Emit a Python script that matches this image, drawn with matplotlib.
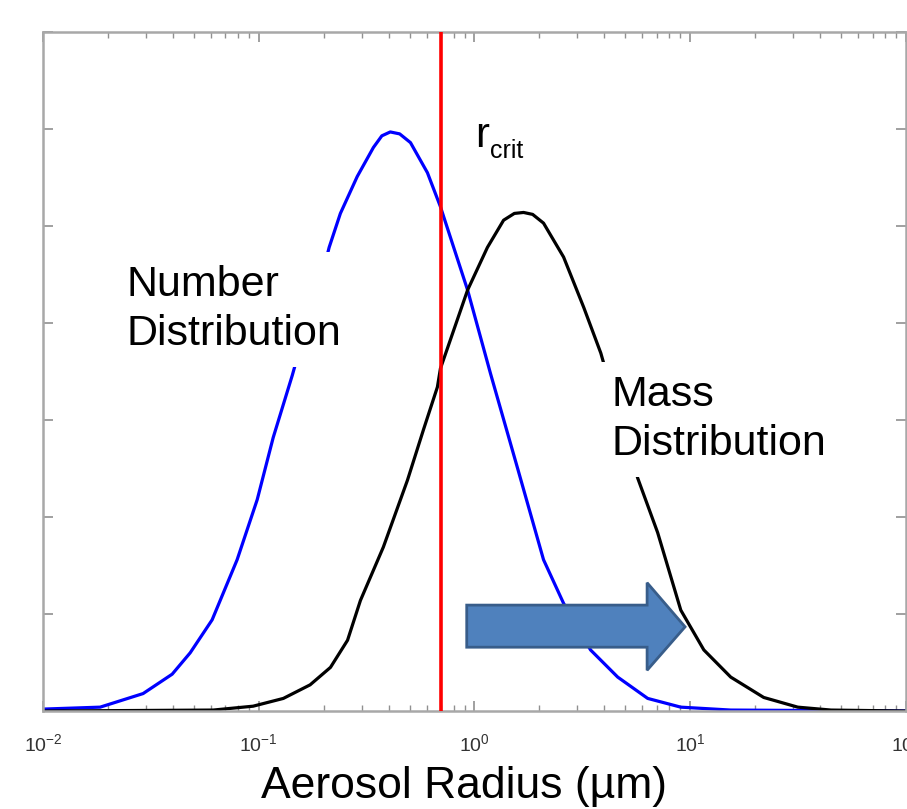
import matplotlib
matplotlib.use("Agg")
import matplotlib.pyplot as plt
from matplotlib.patches import Polygon
from matplotlib.ticker import LogLocator, NullFormatter, MultipleLocator

plt.rcParams["font.family"] = ["Liberation Sans", "DejaVu Sans"]
plt.rcParams["mathtext.default"] = "regular"

# number distribution (blue), radius in um vs arbitrary units
number_r = [0.0100, 0.0184, 0.0291, 0.0397, 0.0481, 0.0608, 0.0794, 0.0984,
            0.1167, 0.143, 0.164, 0.189, 0.212, 0.239, 0.286, 0.340, 0.372,
            0.407, 0.450, 0.505, 0.605, 0.695, 0.929, 1.186, 1.585, 2.089,
            2.588, 3.45, 4.61, 6.35, 9.04, 15.4, 100.0]
number_y = [0.02, 0.04, 0.18, 0.38, 0.60, 0.94, 1.56, 2.18,
            2.82, 3.46, 3.93, 4.34, 4.78, 5.13, 5.51, 5.81, 5.93,
            5.97, 5.95, 5.86, 5.55, 5.20, 4.34, 3.48, 2.50, 1.56,
            1.11, 0.63, 0.35, 0.13, 0.04, 0.01, 0.0]

# mass distribution (black)
mass_r = [0.0100, 0.0615, 0.0942, 0.130, 0.173, 0.215, 0.258, 0.296, 0.378,
          0.489, 0.580, 0.673, 0.695, 0.929, 1.148, 1.364, 1.53, 1.688, 1.86,
          2.089, 2.588, 3.21, 3.85, 4.37, 5.02, 5.71, 7.06, 9.04, 11.56,
          15.4, 21.9, 31.5, 44.9, 100.0]
mass_y = [0.0, 0.01, 0.05, 0.13, 0.27, 0.45, 0.73, 1.14, 1.69,
          2.38, 2.90, 3.34, 3.53, 4.34, 4.78, 5.06, 5.13, 5.14, 5.12,
          5.03, 4.68, 4.16, 3.69, 3.26, 2.82, 2.40, 1.84, 1.04, 0.63,
          0.35, 0.14, 0.04, 0.01, 0.0]

r_crit = 0.70

fig = plt.figure(figsize=(9.07, 8.09), dpi=100)
ax = fig.add_axes([0.0474, 0.1211, 0.9515, 0.8393])

ax.semilogx(number_r, number_y, color="#0000ff", lw=2.3, zorder=2)
ax.semilogx(mass_r, mass_y, color="black", lw=2.3, zorder=2)
ax.axvline(r_crit, color="#ff0000", lw=2.6, zorder=4)

ax.set_xlim(0.01, 100)
ax.set_ylim(0, 7)

# axis styling, matlab-like
for sp in ax.spines.values():
    sp.set_color("#a8a8a8")
    sp.set_linewidth(1.8)
ax.xaxis.set_major_locator(LogLocator(base=10, numticks=10))
ax.xaxis.set_minor_locator(LogLocator(base=10, subs=range(2, 10), numticks=10))
ax.xaxis.set_minor_formatter(NullFormatter())
ax.yaxis.set_major_locator(MultipleLocator(1))
ax.tick_params(which="both", direction="in", top=True, right=True,
               color="#909090")
ax.tick_params(which="major", length=7, width=1.2)
ax.tick_params(which="minor", length=4, width=1.0)
ax.tick_params(axis="x", labelsize=14, labelcolor="#333333", pad=16)
ax.set_yticklabels([])

# labels with white boxes hiding part of the curves
box = dict(boxstyle="square,pad=0.3", facecolor="white", edgecolor="none")
ax.text(0.0973, 0.657, "Number\nDistribution", transform=ax.transAxes,
        fontsize=31, va="top", ha="left", linespacing=1.3, bbox=box, zorder=3)
ax.text(0.659, 0.495, "Mass\nDistribution", transform=ax.transAxes,
        fontsize=31, va="top", ha="left", linespacing=1.3, bbox=box, zorder=3)
ax.text(0.5006, 0.831, "r", transform=ax.transAxes, fontsize=30,
        va="baseline", ha="left", zorder=3)
ax.text(0.518, 0.815, "crit", transform=ax.transAxes, fontsize=18,
        va="baseline", ha="left", zorder=3)

# block arrow (axes fractions)
arrow_pts = [(0.491, 0.156), (0.700, 0.156), (0.700, 0.189), (0.744, 0.124),
             (0.700, 0.060), (0.700, 0.094), (0.491, 0.094)]
ax.add_patch(Polygon(arrow_pts, closed=True, transform=ax.transAxes,
                     facecolor="#4f81bd", edgecolor="#385d8a", lw=2, zorder=5))

fig.text(0.512, 0.013, "Aerosol Radius (\u00b5m)", fontsize=32,
         ha="center", va="baseline")

fig.savefig("out.png", dpi=100)
